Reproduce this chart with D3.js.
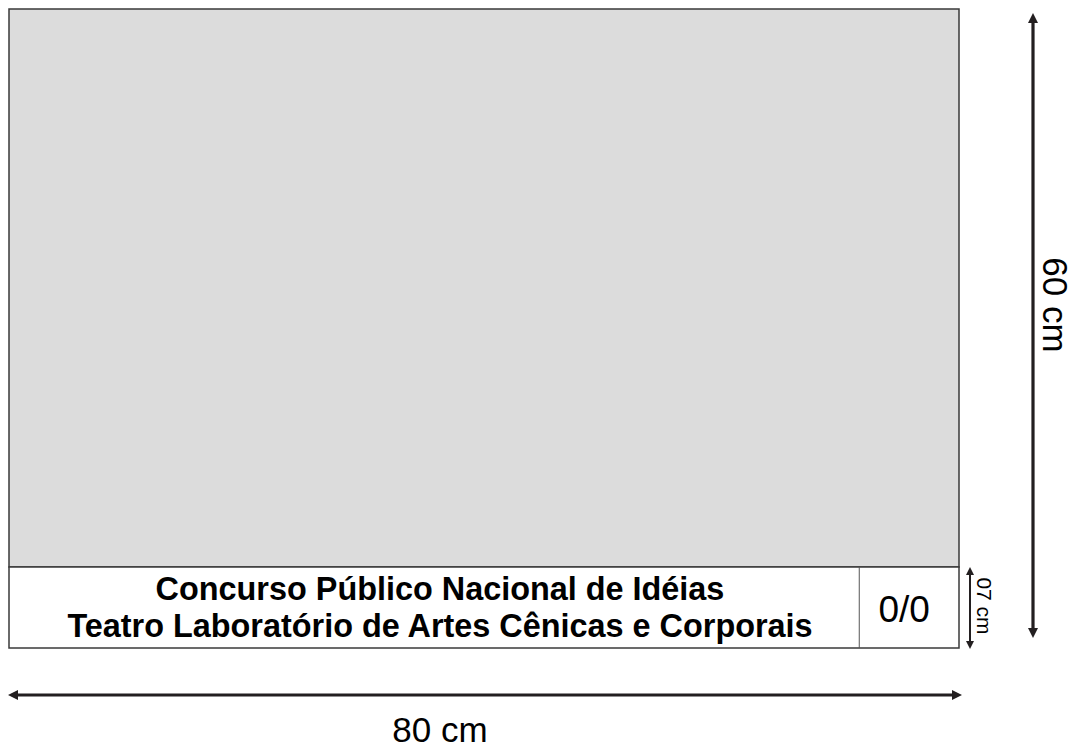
<!DOCTYPE html>
<html>
<head>
<meta charset="utf-8">
<script src="https://cdn.jsdelivr.net/npm/d3@7"></script>
<style>
    html, body { margin: 0; padding: 0; background: #fff; }
    svg { display: block; font-family: "Liberation Sans", Arial, sans-serif; }
</style>
</head>
<body>
<svg id="viz" width="1076" height="748"></svg>
<script>
// sheet dimensions (cm) and labels, as written on the drawing
const sheetWidth = 80;
const sheetHeight = 60;
const stampHeight = 7;
const numberCellWidth = 8.4; // read from the picture, not labelled
const titleLines = ['Concurso Público Nacional de Idéias', 'Teatro Laboratório de Artes Cênicas e Corporais'];
const sheetNumber = '0/0';
const dimLabels = ['80 cm', '60 cm', '07 cm'];

const svg = d3.select('#viz');
const ink = '#231f20';

// drawing is not to scale, the stamp is drawn a bit taller than 7/60
const x = d3.scaleLinear().domain([0, sheetWidth]).range([9, 959]);
const y = d3.scaleLinear().domain([0, stampHeight, sheetHeight]).range([648, 567, 9]);

// grey sheet area
svg.append('rect')
    .attr('x', x(0)).attr('y', y(sheetHeight))
    .attr('width', x(sheetWidth) - x(0))
    .attr('height', y(stampHeight) - y(sheetHeight))
    .attr('fill', '#dcdcdc')
    .attr('stroke', '#3a3a3a')
    .attr('stroke-width', 1.5);

// stamp box
svg.append('rect')
    .attr('x', x(0)).attr('y', y(stampHeight))
    .attr('width', x(sheetWidth) - x(0))
    .attr('height', y(0) - y(stampHeight))
    .attr('fill', '#fff')
    .attr('stroke', '#3a3a3a')
    .attr('stroke-width', 1.5);

svg.append('line')
    .attr('x1', x(sheetWidth - numberCellWidth)).attr('x2', x(sheetWidth - numberCellWidth))
    .attr('y1', y(stampHeight)).attr('y2', y(0))
    .attr('stroke', '#555')
    .attr('stroke-width', 1);

svg.append('g')
    .selectAll('text')
    .data(titleLines)
    .join('text')
    .attr('x', 440)
    .attr('y', (d, i) => 600 + i * 37)
    .attr('text-anchor', 'middle')
    .attr('font-weight', 'bold')
    .attr('font-size', 32.4)
    .attr('fill', '#000')
    .text(d => d);

svg.append('text')
    .attr('x', (x(sheetWidth - numberCellWidth) + x(sheetWidth)) / 2 - 5)
    .attr('y', 622)
    .attr('text-anchor', 'middle')
    .attr('font-size', 37)
    .attr('fill', '#000')
    .text(sheetNumber);

// double headed arrow helper
function arrow(x1, y1, x2, y2, w, head) {
    const a = Math.atan2(y2 - y1, x2 - x1);
    const g = svg.append('g');
    g.append('line')
        .attr('x1', x1 + Math.cos(a) * head * 0.8).attr('y1', y1 + Math.sin(a) * head * 0.8)
        .attr('x2', x2 - Math.cos(a) * head * 0.8).attr('y2', y2 - Math.sin(a) * head * 0.8)
        .attr('stroke', ink)
        .attr('stroke-width', w);
    const tip = (px, py, ang) => {
        const bx = px - Math.cos(ang) * head, by = py - Math.sin(ang) * head;
        const nx = -Math.sin(ang) * head * 0.5, ny = Math.cos(ang) * head * 0.5;
        return [[px, py], [bx + nx, by + ny], [bx - nx, by - ny]];
    };
    g.selectAll('polygon')
        .data([tip(x2, y2, a), tip(x1, y1, a + Math.PI)])
        .join('polygon')
        .attr('points', d => d.join(' '))
        .attr('fill', ink);
}

// 80 cm
arrow(x(0) - 1, 695, x(sheetWidth) + 3, 695, 3.2, 10);
svg.append('text')
    .attr('x', 440).attr('y', 742)
    .attr('text-anchor', 'middle')
    .attr('font-size', 35)
    .attr('fill', '#000')
    .text(dimLabels[0]);

// 60 cm
arrow(1033, y(sheetHeight) + 4, 1033, y(0) - 10, 3.2, 10);
svg.append('text')
    .attr('transform', `translate(1043,305) rotate(90)`)
    .attr('text-anchor', 'middle')
    .attr('font-size', 35)
    .attr('fill', '#000')
    .text(dimLabels[1]);

// 07 cm
arrow(970, y(stampHeight), 970, y(0) + 1, 2, 8);
svg.append('text')
    .attr('transform', `translate(977,606) rotate(90)`)
    .attr('text-anchor', 'middle')
    .attr('font-size', 21)
    .attr('fill', '#000')
    .text(dimLabels[2]);
</script>
</body>
</html>
